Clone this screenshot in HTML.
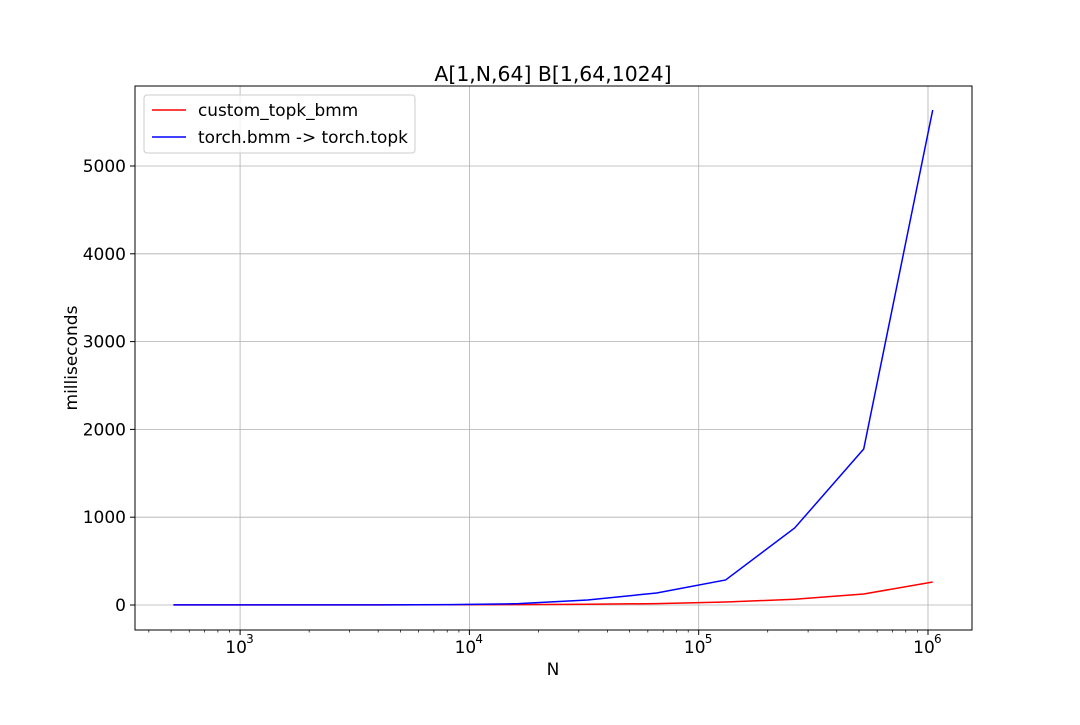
<!DOCTYPE html>
<html><head><meta charset="utf-8"><style>
body{margin:0;background:#fff;font-family:"Liberation Sans","DejaVu Sans",sans-serif}
</style></head><body>
<svg id="chart" width="1080" height="720" xmlns="http://www.w3.org/2000/svg" font-family="DejaVu Sans, Liberation Sans, sans-serif">
<rect width="1080" height="720" fill="#fff"/>
<g id="grid"></g>
<g id="series"></g>
<rect x="135" y="86" width="837" height="544" fill="none" stroke="#000" stroke-width="1"/>
<g id="ticks"></g>
<text x="553" y="81" font-size="20.4" text-anchor="middle">A[1,N,64] B[1,64,1024]</text>
<text x="553" y="675" font-size="17" text-anchor="middle">N</text>
<text x="77" y="358" font-size="17" text-anchor="middle" transform="rotate(-90 77 358)">milliseconds</text>
<g>
<rect x="144" y="95" width="271" height="58" rx="3" fill="#fff" fill-opacity="0.8" stroke="#ccc"/>
<line x1="152" y1="110" x2="186" y2="110" stroke="red" stroke-width="1.5"/>
<text x="198" y="116" font-size="16.9">custom_topk_bmm</text>
<line x1="152" y1="137" x2="186" y2="137" stroke="blue" stroke-width="1.5"/>
<text x="198" y="143" font-size="16.9">torch.bmm -&gt; torch.topk</text>
</g>
</svg>
<script>
const nValues=[512,1024,2048,4096,8192,16384,32768,65536,131072,262144,524288,1048576];
const customMs=[2,2,2,2,3,4,8,16,34,65,125,262];
const torchMs=[1,1,1,2,4,15,57,137,285,877,1777,5638];
const yTicks=[0,1000,2000,3000,4000,5000];
const xTickExps=[3,4,5,6];
const NS="http://www.w3.org/2000/svg";
const L=135,R=972,T=86,B=630;
function xs(v){return 928+(Math.log10(v)-6)*229.3;}
function ys(v){return 605-v*0.0878;}
function mk(tag,attrs,parent){const e=document.createElementNS(NS,tag);for(const k in attrs)e.setAttribute(k,attrs[k]);parent.appendChild(e);return e;}
const grid=document.getElementById('grid'),ticks=document.getElementById('ticks'),ser=document.getElementById('series');
yTicks.forEach(v=>{const y=ys(v);
 const g=mk('line',{x1:L,x2:R,y1:y,y2:y,stroke:'#b0b0b0','stroke-width':0.8},grid);
 
 
 mk('line',{x1:L-5,x2:L,y1:y,y2:y,stroke:'#000'},ticks);
 const t=mk('text',{x:L-9,y:y+6,'font-size':17,'text-anchor':'end'},ticks);t.textContent=v;
 
 
});
xTickExps.forEach(e=>{const x=xs(Math.pow(10,e));
 const g=mk('line',{x1:x,x2:x,y1:T,y2:B,stroke:'#b0b0b0','stroke-width':0.8},grid);
 
 
 mk('line',{x1:x,x2:x,y1:B,y2:B+5,stroke:'#000'},ticks);
 const t=mk('text',{x:x-4,y:B+23,'font-size':17,'text-anchor':'middle'},ticks);t.textContent='10';
 
 
 const s=mk('text',{x:x+6,y:B+13,'font-size':12},ticks);s.textContent=e;
});
for(let e=2;e<=6;e++)for(let m=2;m<=9;m++){const x=xs(m*Math.pow(10,e));if(x>L&&x<R)mk('line',{x1:x,x2:x,y1:B,y2:B+2.5,stroke:'#000','stroke-width':0.7},ticks);}
function line(vals,color,name){const p=mk('polyline',{points:nValues.map((n,i)=>xs(n)+','+ys(vals[i])).join(' '),fill:'none',stroke:color,'stroke-width':1.5},ser);
 
 }
line(customMs,'red','custom-topk-bmm-line');
line(torchMs,'blue','torch-bmm-topk-line');
</script>
</body></html>
